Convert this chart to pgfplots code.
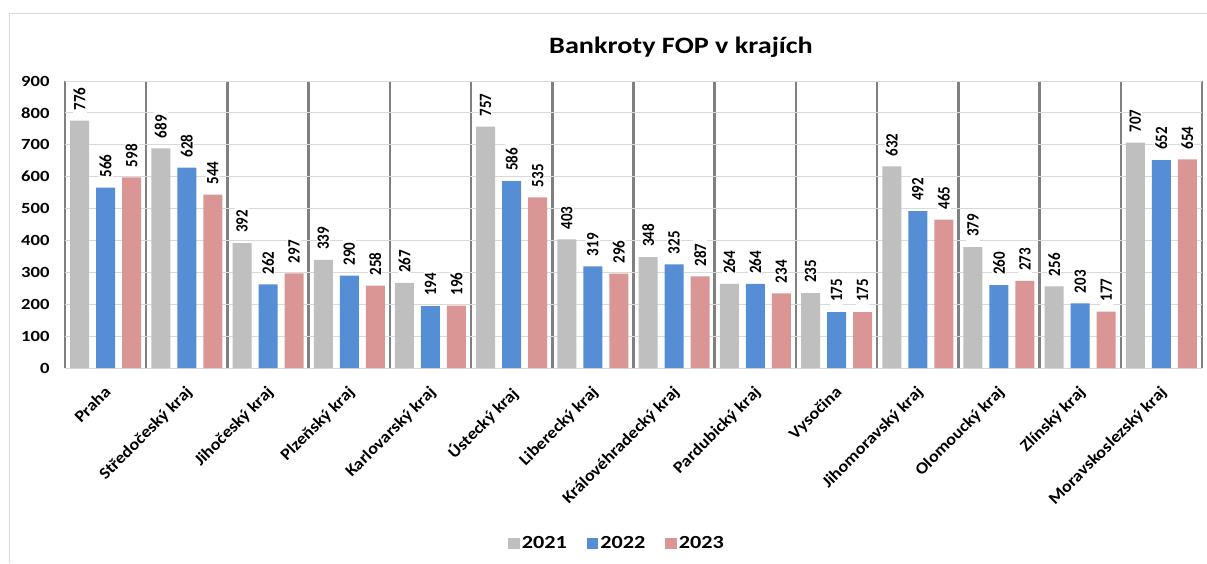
\documentclass[border=0pt]{standalone}
\usepackage{pgfplots}
\pgfplotsset{compat=1.18}
\usepackage{fontspec}
\setmainfont{Carlito}
\newfontfamily\wide{Carlito}[FakeStretch=1.2]
\newfontfamily\semi{Carlito}[FakeStretch=1.1]
\definecolor{cA}{RGB}{191,191,191}
\definecolor{cB}{RGB}{85,142,213}
\definecolor{cC}{RGB}{217,150,148}
\definecolor{sep}{RGB}{128,128,128}
\definecolor{grd}{RGB}{217,217,217}
\definecolor{frm}{RGB}{217,217,217}
\begin{document}
\begin{tikzpicture}
\useasboundingbox (0pt,0pt) rectangle (1207pt,563pt);
\draw[line width=1.2pt, frm] (9.5pt,0pt) -- (9.5pt,549.5pt) -- (1207pt,549.5pt);
\node[font=\wide\bfseries\fontsize{23.5}{28}\selectfont] at (681pt,516pt) {Bankroty FOP v krajích};
\begin{axis}[
  at={(65pt,195pt)}, anchor=south west,
  width=1137pt, height=287pt, scale only axis,
  xmin=-0.5, xmax=13.5, ymin=0, ymax=900,
  ytick={0,100,...,900},
  xtick={0,...,13},
  xticklabels={Praha,Středočeský kraj,Jihočeský kraj,Plzeňský kraj,Karlovarský kraj,Ústecký kraj,Liberecký kraj,Královéhradecký kraj,Pardubický kraj,Vysočina,Jihomoravský kraj,Olomoucký kraj,Zlínský kraj,Moravskoslezský kraj},
  minor xtick={-0.5,0.5,...,13.5},
  xminorgrids, ymajorgrids,
  major grid style={draw=grd, line width=0.8pt},
  minor grid style={draw=sep, line width=2.5pt},
  axis line style={draw=none},
  major tick length=0pt, minor tick length=0pt,
  /pgf/number format/assume math mode=true,
  yticklabel style={font=\wide\bfseries\fontsize{15.5}{18}\selectfont, xshift=-12pt},
  xticklabel style={font=\semi\bfseries\fontsize{16.5}{19}\selectfont, rotate=45, anchor=north east, xshift=-10pt, yshift=-7pt},
  ybar=7pt, bar width=19pt,
  clip=false,
  nodes near coords={\scalebox{1}[1.15]{\pgfmathprintnumber{\pgfplotspointmeta}}},
  nodes near coords style={font=\bfseries\fontsize{15}{18}\selectfont, rotate=90, anchor=west, fill=white, inner xsep=5pt, inner ysep=1pt, xshift=5pt},
  legend columns=3,
  legend style={at={(0.4855,-0.612)}, anchor=center, draw=none, fill=none, font=\wide\bfseries\fontsize{18.5}{22}\selectfont, /tikz/every even column/.append style={column sep=18pt}},
  legend image code/.code={\draw[#1,draw=none] (0pt,-5.5pt) rectangle (11.5pt,6pt);},
]
\addplot[fill=cA, draw=none] coordinates {(0,776) (1,689) (2,392) (3,339) (4,267) (5,757) (6,403) (7,348) (8,264) (9,235) (10,632) (11,379) (12,256) (13,707)};
\addplot[fill=cB, draw=none] coordinates {(0,566) (1,628) (2,262) (3,290) (4,194) (5,586) (6,319) (7,325) (8,264) (9,175) (10,492) (11,260) (12,203) (13,652)};
\addplot[fill=cC, draw=none] coordinates {(0,598) (1,544) (2,297) (3,258) (4,196) (5,535) (6,296) (7,287) (8,234) (9,175) (10,465) (11,273) (12,177) (13,654)};
\legend{2021,2022,2023}
\end{axis}
\end{tikzpicture}
\end{document}
